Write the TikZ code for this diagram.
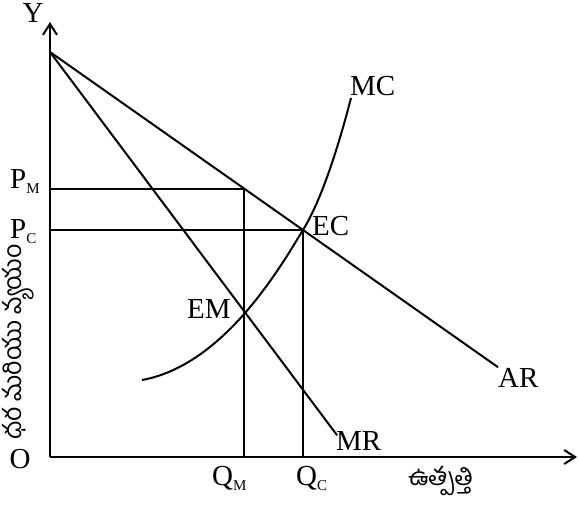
\documentclass[tikz,border=0pt]{standalone}
\usepackage{fontspec}
\setmainfont{Liberation Serif}
\newfontfamily\telugu[Script=Telugu]{Hind Guntur}
\usetikzlibrary{arrows.meta,calc}
\newcommand\lowsub[1]{\raisebox{-5pt}{\fontsize{15}{15}\selectfont #1}}
\tikzset{
  >={Straight Barb[length=11pt,width=14pt]},
  crv/.style={line width=2pt},
  axs/.style={->,line width=2pt},
  lab/.style={font=\fontsize{29}{30}\selectfont,inner sep=0pt},
  tlab/.style={font=\telugu\fontsize{25}{27}\selectfont,inner sep=0pt},
}

\begin{document}
\begin{tikzpicture}[x=1pt,y=-1pt]
\useasboundingbox (0,0) rectangle (579,507);
% axes
\coordinate (O) at (50,457);
\coordinate (ytip) at (50,22);
\coordinate (xtip) at (577,457);
\draw[axs] (O) -- (ytip);
\draw[axs] (O) -- (xtip);
% AR and MR
\coordinate (A) at (50,52);
\coordinate (EC) at (303,230);
\coordinate (EM) at (244,311);
\coordinate (PMpt) at ($(A)!0.767!(EC)$);
\coordinate (ARend) at ($(A)!1.771!(EC)$);
\coordinate (MRend) at ($(A)!1.48!(EM)$);
\draw[crv] (A) -- (ARend);
\draw[crv] (A) -- (MRend);
% MC
\coordinate (MCbot) at (142,380);
\coordinate (MCtop) at (351,98);
\draw[crv] (MCbot) .. controls (225,365) and (282,264) .. (EC)
  .. controls (324,196) and (342,133) .. (MCtop);
% price / quantity lines
\draw[crv] (O |- PMpt) -- (PMpt) -- (PMpt |- O);
\draw[crv] (O |- EC) -- (EC) -- (EC |- O);
% labels
\node[lab] (ylab) at (33,13) {Y};
\node[lab] (olab) at (20,459) {O};
\node[lab,anchor=base west] (pm) at (10,188) {P\lowsub{M}};
\node[lab,anchor=base west] (pc) at (10,238) {P\lowsub{C}};
\node[lab,anchor=base west] (qm) at (212,485) {Q\lowsub{M}};
\node[lab,anchor=base west] (qc) at (296,485) {Q\lowsub{C}};
\node[lab,anchor=base west] (mc) at (350,95) {MC};
\node[lab,anchor=base west] (ec) at (312,235) {EC};
\node[lab,anchor=base west] (em) at (187,318) {EM};
\node[lab,anchor=base west] (ar) at (498,387) {AR};
\node[lab,anchor=base west] (mr) at (336,450) {MR};
\node[tlab] (xtxt) at (441,481) {ఉత్పత్తి};
\node[tlab,rotate=90] (ytxt) at (18,342) {ధర మరియు వ్యయం};
\end{tikzpicture}
\end{document}
